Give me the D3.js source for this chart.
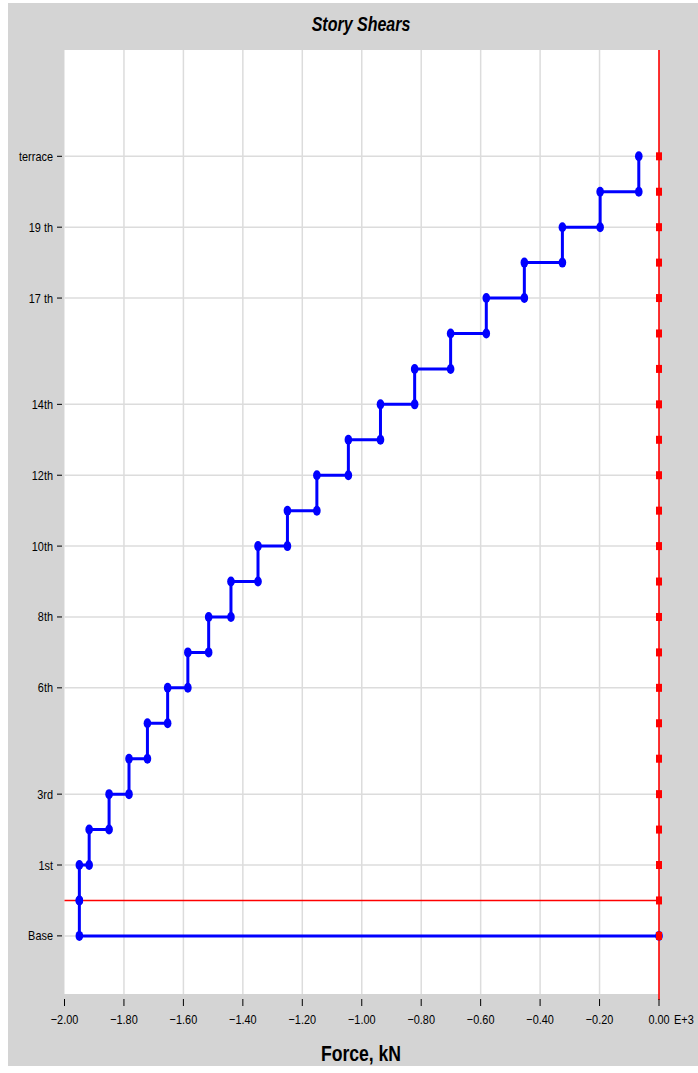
<!DOCTYPE html>
<html>
<head>
<meta charset="utf-8">
<script src="https://cdn.jsdelivr.net/npm/d3@7"></script>
<style>
  html, body { margin: 0; padding: 0; background: #ffffff; }
  svg { display: block; }
  text { font-family: "Liberation Sans", Arial, sans-serif; }
</style>
</head>
<body>
<svg id="chart" width="698" height="1073"></svg>
<script>
// ---- data ----
const levels = ["Base", "GF", "1st", "2nd", "3rd", "4th", "5th", "6th", "7th", "8th", "9th",
  "10th", "11th", "12th", "13th", "14th", "15th", "16th", "17 th", "18th", "19 th", "20th", "terrace"];
const labeledLevels = ["terrace", "19 th", "17 th", "14th", "12th", "10th", "8th", "6th", "3rd", "1st", "Base"];
const storyTops = ["terrace", "20th", "19 th", "18th", "17 th", "16th", "15th", "14th", "13th", "12th",
  "11th", "10th", "9th", "8th", "7th", "6th", "5th", "4th", "3rd", "2nd", "1st", "GF"];
const storyShearKN = [-68, -198, -325, -453, -581, -701, -822, -937, -1045, -1151,
  -1250, -1349, -1440, -1515, -1585, -1653, -1721, -1783, -1850, -1917, -1950, -1950];
const xTicks = [-2000, -1800, -1600, -1400, -1200, -1000, -800, -600, -400, -200, 0];
const groundLevel = "GF";
const titleText = "Story Shears";
const xAxisTitle = "Force, kN";

// ---- layout ----
const svg = d3.select("#chart");
const plot = { left: 64.5, right: 659, top: 50, bottom: 994 };
const narrow = 0.84;

svg.append("rect").attr("x", 8).attr("y", 3).attr("width", 690).attr("height", 1063)
  .attr("fill", "#d4d4d4");
svg.append("rect").attr("x", plot.left).attr("y", plot.top)
  .attr("width", plot.right - plot.left).attr("height", plot.bottom - plot.top)
  .attr("fill", "#ffffff");

const x = d3.scaleLinear().domain([-2000, 0]).range([plot.left, plot.right]);
const idx = name => levels.indexOf(name);
const y = d3.scaleLinear().domain([-1.64, 25]).range([plot.bottom, plot.top]);
const yl = name => y(idx(name));

// gridlines
const g = svg.append("g");
g.selectAll("line.vg").data(xTicks.filter(v => v > -2000 && v < 0)).join("line")
  .attr("x1", d => x(d)).attr("x2", d => x(d))
  .attr("y1", plot.top).attr("y2", plot.bottom)
  .attr("stroke", "#dcdcdc").attr("stroke-width", 1.5);
g.selectAll("line.hg").data(labeledLevels).join("line")
  .attr("x1", plot.left).attr("x2", plot.right)
  .attr("y1", d => yl(d)).attr("y2", d => yl(d))
  .attr("stroke", "#dcdcdc").attr("stroke-width", 1.5);

// red ground line
svg.append("line").attr("x1", plot.left).attr("x2", plot.right)
  .attr("y1", yl(groundLevel)).attr("y2", yl(groundLevel))
  .attr("stroke", "#ff0000").attr("stroke-width", 1.5);

// blue step line
const pts = [];
storyTops.forEach((s, i) => {
  const t = idx(s);
  pts.push([storyShearKN[i], t]);
  pts.push([storyShearKN[i], t - 1]);
});
pts.push([0, 0]);
const line = d3.line().x(d => x(d[0])).y(d => y(d[1]));
svg.append("path").datum(pts).attr("d", line)
  .attr("fill", "none").attr("stroke", "#0000ff").attr("stroke-width", 3)
  .attr("stroke-linejoin", "miter");
svg.selectAll("ellipse.m").data(pts).join("ellipse")
  .attr("cx", d => x(d[0])).attr("cy", d => y(d[1]))
  .attr("rx", 3.8).attr("ry", 5).attr("fill", "#0000ff");

// red zero line with square markers
svg.append("line").attr("x1", x(0)).attr("x2", x(0))
  .attr("y1", plot.top).attr("y2", plot.bottom + 6)
  .attr("stroke", "#ff0000").attr("stroke-width", 1.6);
svg.selectAll("rect.rm").data(levels).join("rect")
  .attr("x", x(0) - 3).attr("y", d => yl(d) - 4)
  .attr("width", 6).attr("height", 8).attr("fill", "#ff0000");

// helper for horizontally condensed text
function ntext(sel, tx, ty, sx) {
  return sel.attr("transform", (d, i) => `translate(${tx(d, i)},${ty(d, i)}) scale(${sx},1)`);
}

// y axis labels and ticks
svg.selectAll("line.yt").data(labeledLevels).join("line")
  .attr("x1", 57).attr("x2", 62)
  .attr("y1", d => yl(d)).attr("y2", d => yl(d))
  .attr("stroke", "#000").attr("stroke-width", 1);
ntext(svg.selectAll("text.yl").data(labeledLevels).join("text"), () => 53, d => yl(d) + 4.5, narrow)
  .attr("text-anchor", "end").attr("font-size", 13).attr("fill", "#000")
  .text(d => d);

// x axis ticks and labels
svg.selectAll("line.xt").data(xTicks).join("line")
  .attr("x1", d => x(d)).attr("x2", d => x(d))
  .attr("y1", 999).attr("y2", 1006)
  .attr("stroke", "#000").attr("stroke-width", 1);
const fmt = d3.format(".2f");
ntext(svg.selectAll("text.xl").data(xTicks).join("text"), d => x(d), () => 1024, narrow)
  .attr("text-anchor", "middle").attr("font-size", 13).attr("fill", "#000")
  .text(d => fmt(d / 1000));
ntext(svg.append("text"), () => x(0) + 15, () => 1024, narrow)
  .attr("text-anchor", "start").attr("font-size", 13).attr("fill", "#000")
  .text("E+3");

// titles
ntext(svg.append("text"), () => 361, () => 31, 0.8)
  .attr("text-anchor", "middle").attr("font-size", 20)
  .attr("font-weight", "bold").attr("font-style", "italic").attr("fill", "#000")
  .text(titleText);
ntext(svg.append("text"), () => 361, () => 1061, 0.8)
  .attr("text-anchor", "middle").attr("font-size", 22)
  .attr("font-weight", "bold").attr("fill", "#000")
  .text(xAxisTitle);
</script>
</body>
</html>
